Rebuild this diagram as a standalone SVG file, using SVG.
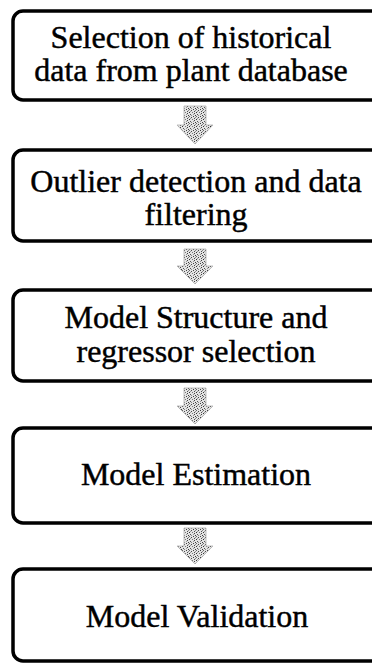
<svg xmlns="http://www.w3.org/2000/svg" width="372" height="664" viewBox="0 0 372 664">
  <style>
    .box { fill: #ffffff; stroke: #000000; stroke-width: 3.5; }
    .lbl { font-family: "Liberation Serif", "Times New Roman", serif; font-size: 32px; fill: #000000; stroke: #000000; stroke-width: 0.45; text-anchor: middle; }
    .arrow { fill: url(#speckle); stroke: #b0b0b0; stroke-width: 0.8; }
  </style>
  <defs>
    <!-- irregular grey speckle for the block arrows -->
    <pattern id="speckle" width="7" height="7" patternUnits="userSpaceOnUse">
      <rect width="7" height="7" fill="#e4e4e4"/>
      <rect x="0" y="0" width="1" height="1" fill="#333"/>
      <rect x="3" y="0" width="1" height="1" fill="#777"/>
      <rect x="5" y="1" width="1" height="1" fill="#444"/>
      <rect x="1" y="2" width="1" height="1" fill="#555"/>
      <rect x="4" y="2" width="1" height="1" fill="#999"/>
      <rect x="6" y="3" width="1" height="1" fill="#3c3c3c"/>
      <rect x="2" y="3" width="1" height="1" fill="#888"/>
      <rect x="0" y="4" width="1" height="1" fill="#666"/>
      <rect x="4" y="4" width="1" height="1" fill="#404040"/>
      <rect x="2" y="5" width="1" height="1" fill="#4a4a4a"/>
      <rect x="6" y="5" width="1" height="1" fill="#8a8a8a"/>
      <rect x="1" y="6" width="1" height="1" fill="#9a9a9a"/>
      <rect x="5" y="6" width="1" height="1" fill="#505050"/>
    </pattern>
  </defs>

  <rect width="372" height="664" fill="#ffffff"/>

  <!-- block arrows between the steps -->
  <g id="connectors">
    <polygon class="arrow" points="184,106 206,106 206,125 213,125 195,144 177,125 184,125"/>
    <polygon class="arrow" points="184,249 206,249 206,266 213,266 195,284 177,266 184,266"/>
    <polygon class="arrow" points="184,388 206,388 206,406 213,406 195,424 177,406 184,406"/>
    <polygon class="arrow" points="184,528 206,528 206,546 213,546 195,564 177,546 184,546"/>
  </g>

  <g id="step1">
    <rect class="box" x="13" y="11" width="380" height="89" rx="10"/>
    <text class="lbl" x="191" y="48">Selection of historical</text>
    <text class="lbl" x="191" y="81">data from plant database</text>
  </g>

  <g id="step2">
    <rect class="box" x="13" y="150" width="380" height="91" rx="10"/>
    <text class="lbl" x="196" y="192">Outlier detection and data</text>
    <text class="lbl" x="196" y="225">filtering</text>
  </g>

  <g id="step3">
    <rect class="box" x="13" y="290" width="380" height="91" rx="10"/>
    <text class="lbl" x="196" y="328">Model Structure and</text>
    <text class="lbl" x="196" y="362">regressor selection</text>
  </g>

  <g id="step4">
    <rect class="box" x="13" y="428" width="380" height="95" rx="10"/>
    <text class="lbl" x="196" y="485">Model Estimation</text>
  </g>

  <g id="step5">
    <rect class="box" x="13" y="569" width="380" height="92" rx="10"/>
    <text class="lbl" x="197" y="627">Model Validation</text>
  </g>
</svg>
